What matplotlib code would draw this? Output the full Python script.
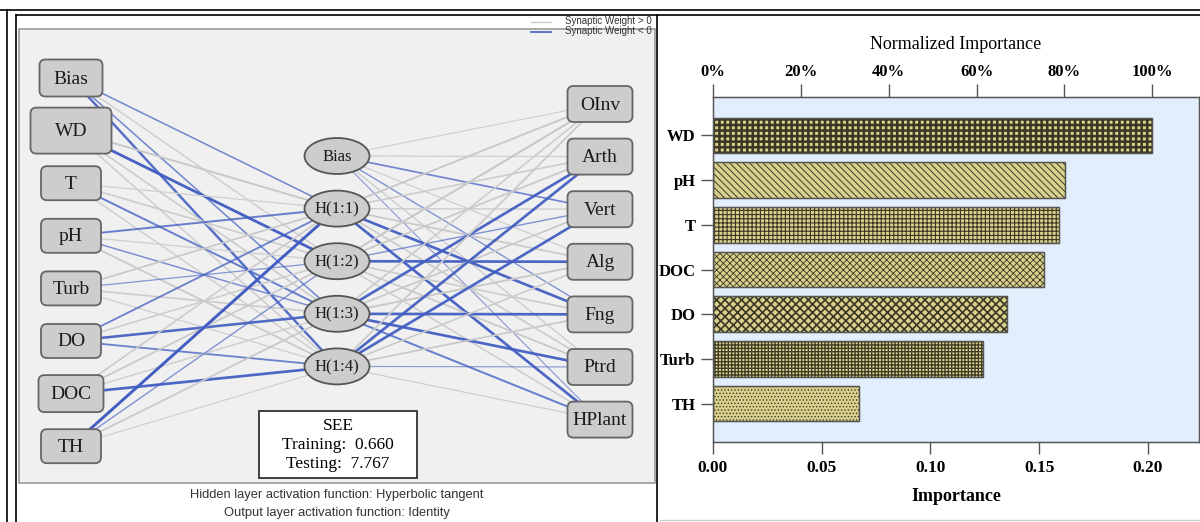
import matplotlib.pyplot as plt
import numpy as np
from matplotlib.patches import FancyBboxPatch, Ellipse, Rectangle

plt.rcParams['font.family'] = ['Liberation Serif', 'DejaVu Serif']

# ---------------- network data ----------------
input_names = ['Bias', 'WD', 'T', 'pH', 'Turb', 'DO', 'DOC', 'TH']
hidden_names = ['Bias', 'H(1:1)', 'H(1:2)', 'H(1:3)', 'H(1:4)']
output_names = ['OInv', 'Arth', 'Vert', 'Alg', 'Fng', 'Ptrd', 'HPlant']

# input -> hidden weights (rows: inputs, cols: H(1:1)..H(1:4))
w_ih = np.array([
    [-0.45, 0.35, -0.45, -0.80],
    [0.55, -0.95, 0.45, 0.40],
    [0.30, 0.45, -0.60, 0.35],
    [-0.60, 0.30, -0.40, 0.50],
    [0.50, -0.30, 0.45, 0.30],
    [-0.55, 0.40, -0.85, -0.55],
    [0.45, 0.50, 0.35, -0.90],
    [-1.00, -0.35, 0.50, 0.25],
])
# hidden -> output weights (rows: Bias, H(1:1)..H(1:4))
w_ho = np.array([
    [0.25, 0.30, -0.50, 0.30, -0.35, 0.35, -0.25],
    [0.55, 0.45, 0.35, 0.50, -0.90, 0.45, -0.90],
    [0.60, 0.50, -0.35, -0.90, 0.45, 0.50, 0.40],
    [0.45, -0.90, 0.50, 0.55, -0.90, -0.90, -0.60],
    [0.50, -0.90, -0.90, 0.45, 0.50, -0.25, 0.30],
])
see_training = 0.660
see_testing = 7.767

# ---------------- importance data ----------------
imp_names = ['WD', 'pH', 'T', 'DOC', 'DO', 'Turb', 'TH']
importance = [0.202, 0.162, 0.159, 0.152, 0.135, 0.124, 0.067]
imp_hatch = ['+++', '\\\\\\\\\\', '++++', 'xxxxx', 'xxxx', '+++++', '.....']
hatch_lw = [1.8, 0.7, 0.8, 0.6, 1.2, 0.9, 0.6]

BLUE = np.array([0.26, 0.37, 0.76])

fig = plt.figure(figsize=(12, 5.22), dpi=100)
ax = fig.add_axes([0, 0, 1, 1])
ax.set_xlim(0, 1200)
ax.set_ylim(522, 0)
ax.axis('off')

# frame lines
ax.plot([0, 1200], [10, 10], color='black', lw=1.2)
ax.plot([16, 1200], [15, 15], color='black', lw=1.2)
ax.plot([7, 7], [10, 522], color='black', lw=1.2)
ax.plot([16, 16], [15, 522], color='black', lw=1.2)
ax.plot([656.5, 656.5], [15, 522], color='black', lw=1.2)
ax.plot([660, 1200], [520, 520], color='#cccccc', lw=1)

# gray diagram panel
ax.add_patch(Rectangle((19, 29), 636, 454, facecolor='#f0f0f0', edgecolor='#9a9a9a', lw=1.2))

# legend
ax.plot([531, 551], [21.5, 21.5], color='#c8c8c8', lw=1)
ax.plot([531, 551], [31.5, 31.5], color=BLUE, lw=1.2)
ax.text(652, 21.5, 'Synaptic Weight > 0', fontsize=7, family='Liberation Sans', ha='right', va='center', color='#333333')
ax.text(652, 31.5, 'Synaptic Weight < 0', fontsize=7, family='Liberation Sans', ha='right', va='center', color='#333333')

# node positions
step = 52.6
x_in, x_hid, x_out = 71, 337, 600
y_in = 78 + step * np.arange(len(input_names))
y_hid = 156 + step * np.arange(len(hidden_names))
y_out = 104 + step * np.arange(len(output_names))


def edge(x0, y0, x1, y1, w):
    m = abs(w)
    if w < 0:
        col = BLUE
        alpha = 0.45 + 0.55 * m
    else:
        g = 0.84 - 0.1 * m
        col = (g, g, g)
        alpha = 1
    ax.plot([x0, x1], [y0, y1], color=col, alpha=alpha, lw=0.4 + 1.7 * m,
            solid_capstyle='butt', zorder=2)


for i in range(len(input_names)):
    for j in range(4):
        edge(x_in, y_in[i], x_hid, y_hid[j + 1], w_ih[i, j])
for i in range(len(hidden_names)):
    for j in range(len(output_names)):
        edge(x_hid, y_hid[i], x_out, y_out[j], w_ho[i, j])


def box(xc, yc, w, h, label):
    ax.add_patch(FancyBboxPatch((xc - w / 2, yc - h / 2), w, h,
                                boxstyle='round,pad=0,rounding_size=6',
                                facecolor='#cdcdcd', edgecolor='#666666', lw=1.3, zorder=3))
    ax.text(xc, yc + 1, label, fontsize=14, ha='center', va='center', color='#1a1a1a', zorder=4)


in_size = {'Bias': (63, 37), 'WD': (81, 46), 'DOC': (65, 37)}
for name, yc in zip(input_names, y_in):
    w, h = in_size.get(name, (60, 34))
    box(x_in, yc, w, h, name)

for name, yc in zip(hidden_names, y_hid):
    ax.add_patch(Ellipse((x_hid, yc), 65, 36, facecolor='#cdcdcd', edgecolor='#555555', lw=1.3, zorder=3))
    ax.text(x_hid, yc + 1, name, fontsize=12, ha='center', va='center', color='#1a1a1a', zorder=4)

for name, yc in zip(output_names, y_out):
    box(x_out, yc, 65, 36, name)

# SEE box
ax.add_patch(Rectangle((259, 411), 158, 67, facecolor='white', edgecolor='#222222', lw=1.2, zorder=3))
ax.text(338, 426, 'SEE', fontsize=12.5, ha='center', va='center', zorder=4)
ax.text(338, 445, 'Training:  %.3f' % see_training, fontsize=12.5, ha='center', va='center', zorder=4)
ax.text(338, 464, 'Testing:  %.3f' % see_testing, fontsize=12.5, ha='center', va='center', zorder=4)

ax.text(337, 495, 'Hidden layer activation function: Hyperbolic tangent', fontsize=9.3,
        family='Liberation Sans', ha='center', va='center', color='#333333')
ax.text(337, 513, 'Output layer activation function: Identity', fontsize=9.3,
        family='Liberation Sans', ha='center', va='center', color='#333333')

# ---------------- importance bars ----------------
axb = fig.add_axes([713 / 1200, 80 / 522, 486 / 1200, 345 / 522])
axb.set_facecolor('#e2eefb')
ypos = np.arange(len(imp_names))
for k in range(len(imp_names)):
    bars = axb.barh(ypos[k], importance[k], height=0.8, color='#d9d08c',
                    edgecolor='#3a3724', hatch=imp_hatch[k], lw=0.8)
    for b in bars:
        if hasattr(b, 'set_hatch_linewidth'):
            b.set_hatch_linewidth(hatch_lw[k])
    axb.barh(ypos[k], importance[k], height=0.8, color='none', edgecolor='#555555', lw=1)

xmax = 0.2235
axb.set_xlim(0, xmax)
axb.set_ylim(len(imp_names) - 0.14, -0.86)
axb.set_yticks(ypos)
axb.set_yticklabels(imp_names, fontweight='bold', fontsize=12)
axb.set_xticks([0, 0.05, 0.10, 0.15, 0.20])
axb.set_xticklabels(['0.00', '0.05', '0.10', '0.15', '0.20'], fontweight='bold', fontsize=12.5)
axb.tick_params(length=8.6, width=1, color='#555555', pad=4)
axb.set_xlabel('Importance', fontweight='bold', fontsize=13, labelpad=9)
for s in axb.spines.values():
    s.set_color('#555555')
    s.set_linewidth(1)

axt = axb.twiny()
axt.set_xlim(0, xmax / max(importance) * 100)
axt.set_xticks([0, 20, 40, 60, 80, 100])
axt.set_xticklabels(['%d%%' % v for v in [0, 20, 40, 60, 80, 100]], fontweight='bold', fontsize=12)
axt.tick_params(length=9.4, width=1, color='#555555', pad=3)
axt.set_xlabel('Normalized Importance', fontsize=13, labelpad=11)
for s in axt.spines.values():
    s.set_color('#555555')

fig.savefig('out.png', dpi=100)
